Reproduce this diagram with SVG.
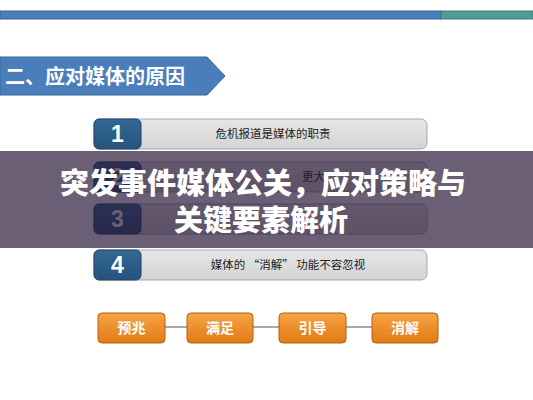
<svg xmlns="http://www.w3.org/2000/svg" width="533" height="400" viewBox="0 0 533 400">
<defs>
<linearGradient id="gGray" x1="0" y1="0" x2="0" y2="1"><stop offset="0" stop-color="#e6e6e6"/><stop offset="1" stop-color="#d4d4d4"/></linearGradient>
<linearGradient id="gOr" x1="0" y1="0" x2="0" y2="1"><stop offset="0" stop-color="#f6a445"/><stop offset="1" stop-color="#e27a14"/></linearGradient>
<linearGradient id="gBlue" x1="0" y1="0" x2="0" y2="1"><stop offset="0" stop-color="#336894"/><stop offset="1" stop-color="#26537c"/></linearGradient>
</defs>
<style>
.row{fill:url(#gGray);stroke:#a9a9a9;stroke-width:1}
.num{fill:url(#gBlue);stroke:#1f4568;stroke-width:1}
.numt{font-family:"Liberation Sans",Arial,sans-serif;font-weight:bold;font-size:23px;fill:#fff;text-anchor:middle}
.rowt{font-family:"Noto Sans CJK SC","Noto Sans",sans-serif;font-size:11.5px;fill:#222;text-anchor:middle}
.ob{fill:url(#gOr);stroke:#b85e0e;stroke-width:1}
.obt{font-family:"Noto Sans CJK SC",sans-serif;font-weight:bold;font-size:14px;fill:#fff;text-anchor:middle}
.ov{font-family:"Noto Sans CJK SC",sans-serif;font-weight:900;font-size:29px;fill:#fff;text-anchor:middle}
</style>
<rect width="533" height="400" fill="#ffffff"/>
<g id="topbar">
<rect x="0" y="11" width="441" height="8" fill="#4a7ebb" stroke="#3a628f" stroke-width="1"/>
<rect x="441" y="11" width="92" height="8" fill="#4e9c98" stroke="#3f7c78" stroke-width="1"/>
</g>
<g id="banner">
<polygon points="0,57 207,57 225,76 207,95 0,95" fill="#4a7ebb" stroke="#3b679a" stroke-width="1"/>
<text x="5" y="84" font-family="Noto Sans CJK SC,sans-serif" font-weight="bold" font-size="20" fill="#fff">二、应对媒体的原因</text>
</g>
<g id="row1">
<rect class="row" x="94" y="119" width="333" height="30" rx="6"/>
<rect class="num" x="94" y="119" width="47" height="30" rx="5"/>
<text class="numt" x="117.5" y="142">1</text>
<text class="rowt" x="273" y="138">危机报道是媒体的职责</text>
</g>
<g id="row2">
<rect class="row" x="94" y="162" width="333" height="30" rx="6"/>
<rect class="num" x="94" y="162" width="47" height="30" rx="5"/>
<text class="numt" x="117.5" y="185">2</text>
<text x="302" y="181" font-family="Noto Sans CJK SC,sans-serif" font-size="11.5" fill="#222">更大 “</text>
</g>
<g id="row3">
<rect class="row" x="94" y="204" width="333" height="30" rx="6"/>
<rect class="num" x="94" y="204" width="47" height="30" rx="5"/>
<text class="numt" x="117.5" y="227">3</text>
</g>
<g id="row4">
<rect class="row" x="94" y="250" width="333" height="30" rx="6"/>
<rect class="num" x="94" y="250" width="47" height="30" rx="5"/>
<text class="numt" x="117.5" y="273">4</text>
<text class="rowt" x="288" y="269">媒体的 “消解” 功能不容忽视</text>
</g>
<g id="connectors" stroke="#8c8c8c" stroke-width="1.5">
<line x1="165" y1="327" x2="187" y2="327"/>
<line x1="253" y1="327" x2="279" y2="327"/>
<line x1="346" y1="327" x2="372" y2="327"/>
</g>
<g id="b1"><rect class="ob" x="98" y="313" width="67" height="30" rx="4"/><text class="obt" x="131.5" y="333">预兆</text></g>
<g id="b2"><rect class="ob" x="187" y="313" width="66" height="30" rx="4"/><text class="obt" x="220" y="333">满足</text></g>
<g id="b3"><rect class="ob" x="279" y="313" width="67" height="30" rx="4"/><text class="obt" x="312.5" y="333">引导</text></g>
<g id="b4"><rect class="ob" x="372" y="313" width="66" height="30" rx="4"/><text class="obt" x="405" y="333">消解</text></g>
<g id="overlay">
<rect x="0" y="151" width="533" height="97" fill="#281737" fill-opacity="0.69"/>
<text class="ov" x="263" y="194">突发事件媒体公关，应对策略与</text>
<text class="ov" x="261" y="231">关键要素解析</text>
</g>
</svg>
